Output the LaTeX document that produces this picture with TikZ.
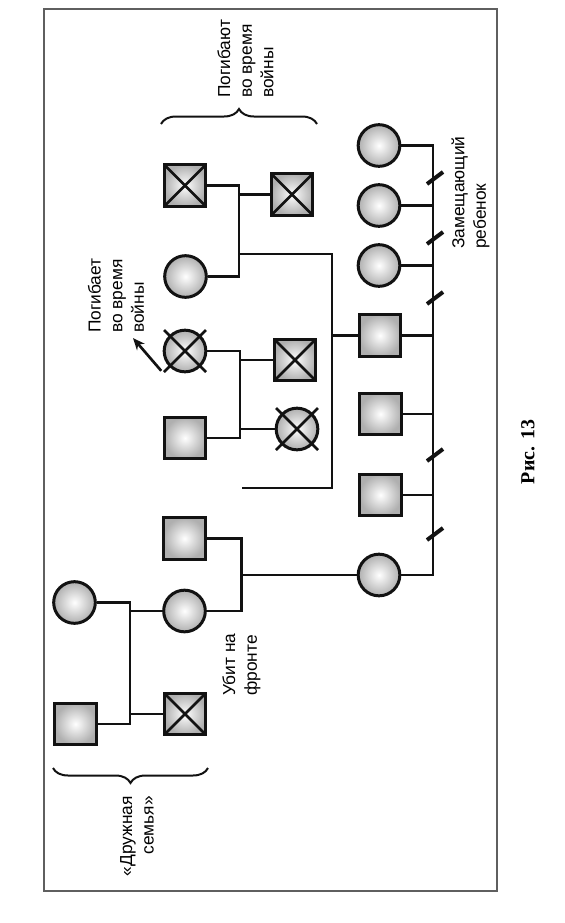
\documentclass[tikz,border=0pt]{standalone}
\usepackage{fontspec}
\setmainfont{Liberation Sans}
\newfontfamily\captionfont{Liberation Serif}
\usepackage{tikz}
\usetikzlibrary{positioning,calc,decorations.pathreplacing,arrows.meta}
\definecolor{lineDark}{RGB}{18,18,18}
\definecolor{fillGray}{RGB}{175,175,175}
\definecolor{frameGray}{RGB}{95,95,95}

\begin{document}
\begin{tikzpicture}[
  x=0.3mm, y=-0.3mm,
  male/.style={rectangle,draw=lineDark,line width=0.9mm,minimum size=12.5mm,inner sep=0pt,inner color=white,outer color=fillGray},
  female/.style={circle,draw=lineDark,line width=0.9mm,minimum size=12.5mm,inner sep=0pt,inner color=white,outer color=fillGray},
  link/.style={draw=lineDark,line width=0.8mm},
  cross/.style={draw=lineDark,line width=0.75mm},
  slash/.style={draw=lineDark,line width=1.2mm},
  note/.style={rotate=90,inner sep=0pt,align=left,font=\fontsize{14.8}{18.5}\selectfont},
  brace/.style={decorate,decoration={brace,amplitude=4.5mm},line width=0.6mm,lineDark},
  pointer/.style={-{Stealth[length=3.6mm,width=3mm]},line width=0.8mm,lineDark}
]
  \useasboundingbox (0,0) rectangle (564,923);
  \draw[frameGray,line width=0.4mm] (44,9) rectangle (497,891);

  % top family
  \node[male] (grandpaTop) at (185,185.5) {};
  \node[female] (grandmaTop) at (185.5,276.5) {};
  \node[male] (uncleTop) at (292,194.5) {};

  % middle family
  \node[female] (auntMid) at (185,351) {};
  \node[male] (husbandMid) at (185,438) {};
  \node[male] (cousinSon) at (295,360) {};
  \node[female] (cousinDaughter) at (297,429) {};

  % left family
  \node[female] (greatGrandma) at (74.5,602.5) {};
  \node[male] (greatGrandpa) at (75.5,724) {};
  \node[male] (grandpaLeft) at (184.5,538.5) {};
  \node[female] (grandmaLeft) at (184.5,611) {};
  \node[male] (killedSon) at (185,714) {};

  % children column
  \node[female] (girlThree) at (379,145.5) {};
  \node[female] (girlTwo) at (379,205.5) {};
  \node[female] (girlOne) at (379,265.5) {};
  \node[male] (father) at (380,335.5) {};
  \node[male] (sonTwo) at (380.5,414) {};
  \node[male] (sonOne) at (380.5,495) {};
  \node[female] (mother) at (379,575) {};

  \foreach \n in {grandpaTop,uncleTop,auntMid,cousinSon,cousinDaughter,killedSon} {
    \draw[cross] ([shift={(-21,-21)}]\n.center) -- ([shift={(21,21)}]\n.center);
    \draw[cross] ([shift={(-21,21)}]\n.center) -- ([shift={(21,-21)}]\n.center);
  }

  % spines
  \coordinate (spineTop) at (239,0);
  \coordinate (spineMid) at (240,0);
  \coordinate (spineOld) at (130,0);
  \coordinate (spineLeft) at (241.5,0);
  \coordinate (sib) at (433,0);
  \coordinate (branchTop) at (239,254);
  \coordinate (branchBend) at (332,488);
  \coordinate (branchEnd) at (242,488);

  \draw[link] (grandpaTop.east) -| (grandmaTop.east -| spineTop) -- (grandmaTop.east);
  \draw[link] (uncleTop.west) -- (uncleTop.west -| spineTop);
  \draw[link] (branchTop) -| (branchBend) -- (branchEnd);
  \draw[link] (father.west) -- (father.west -| branchBend);

  \draw[link] (auntMid.east) -| (husbandMid.east -| spineMid) -- (husbandMid.east);
  \draw[link] (cousinSon.west) -- (cousinSon.west -| spineMid);
  \draw[link] (cousinDaughter.west) -- (cousinDaughter.west -| spineMid);

  \draw[link] (greatGrandma.east) -| (greatGrandpa.east -| spineOld) -- (greatGrandpa.east);
  \draw[link] (grandmaLeft.west) -- (grandmaLeft.west -| spineOld);
  \draw[link] (killedSon.west) -- (killedSon.west -| spineOld);

  \draw[link] (grandpaLeft.east) -| (grandmaLeft.east -| spineLeft) -- (grandmaLeft.east);
  \draw[link] (mother.west) -- (mother.west -| spineLeft);

  \draw[link] (girlThree.east) -| (mother.east -| sib) -- (mother.east);
  \foreach \kid in {girlTwo,girlOne,father,sonTwo,sonOne}
    \draw[link] (\kid.east) -- (\kid.east -| sib);
  \foreach \y in {178,238,298,455,534}
    \draw[slash] (427,{\y+6}) -- (443,{\y-6});

  % braces and notes
  \draw[brace] (161,124) -- (317,124);
  \draw[brace] (208,768) -- (53,768);

  \node[note,anchor=west] (warDead) at (245.5,98) {Погибают\\во время\\войны};
  \node[note,anchor=west] (warDeadMid) at (116,333) {Погибает\\во время\\войны};
  \node[note,anchor=west] (replacement) at (470.5,249) {Замещающий\\ребенок};
  \node[note,anchor=west] (killedFront) at (241.5,696) {Убит на\\фронте};
  \node[note,anchor=east,align=right] (closeFamily) at (137,796) {«Дружная\\семья»};
  \coordinate (arrowTip) at (133,338);
  \draw[pointer] ([shift={(-8,4)}]auntMid.south west) -- (arrowTip);

  \node[rotate=90,font=\captionfont\bfseries\fontsize{17}{20}\selectfont] (figCaption) at (528,452) {Рис. 13};
\end{tikzpicture}
\end{document}
